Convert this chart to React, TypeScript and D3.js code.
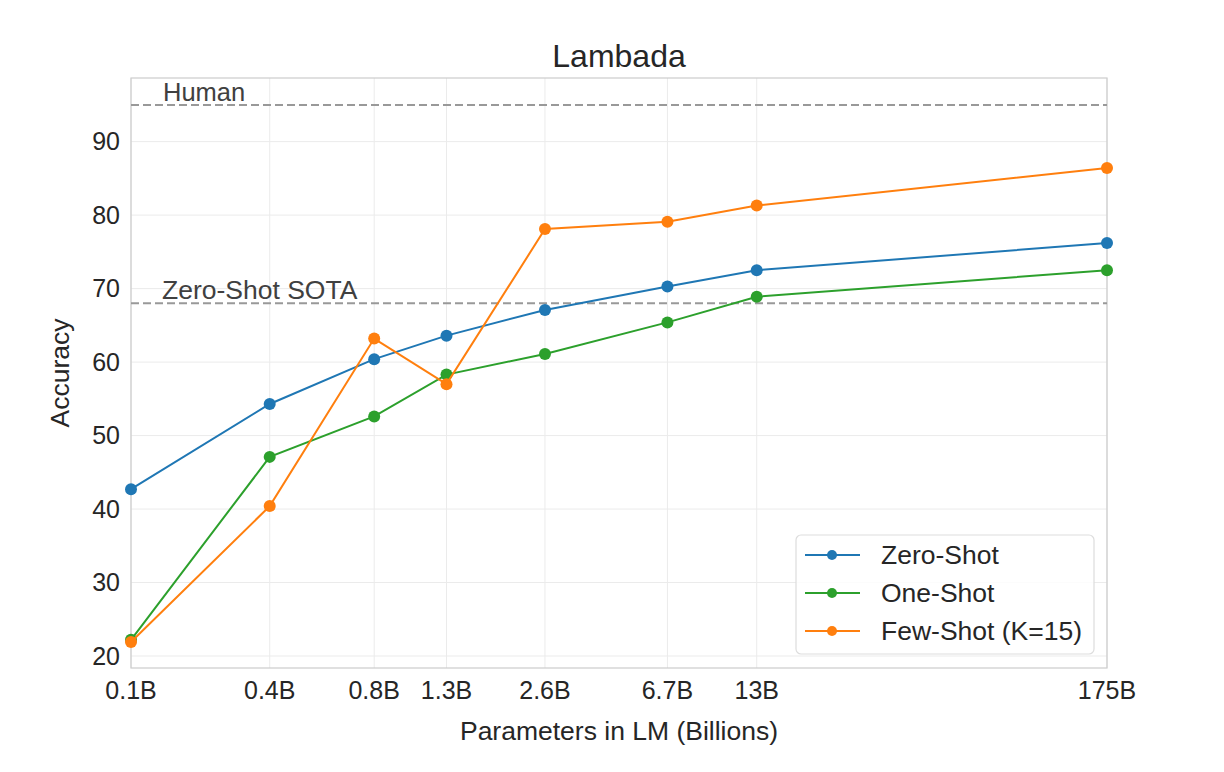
import React from "react";
import * as d3 from "d3";

const paramsB = [0.125, 0.35, 0.76, 1.3, 2.7, 6.7, 13, 175];
const tickLabels = ["0.1B", "0.4B", "0.8B", "1.3B", "2.6B", "6.7B", "13B", "175B"];
const zeroShot = [42.7, 54.3, 60.4, 63.6, 67.1, 70.3, 72.5, 76.2];
const oneShot = [22.2, 47.1, 52.6, 58.3, 61.1, 65.4, 68.9, 72.5];
const fewShot = [21.9, 40.4, 63.2, 57.0, 78.1, 79.1, 81.3, 86.4];
const yTicks = [20, 30, 40, 50, 60, 70, 80, 90];
const humanLevel = 95;
const sotaLevel = 68.0;

const series = [
  { name: "Zero-Shot", values: zeroShot, color: "#1f77b4" },
  { name: "One-Shot", values: oneShot, color: "#2ca02c" },
  { name: "Few-Shot (K=15)", values: fewShot, color: "#ff7f0e" },
];

export default function App() {
  const W = 1224, H = 772;
  const left = 131, right = 1107, top = 78, bottom = 668;
  const font = "'Liberation Sans', Arial, Helvetica, sans-serif";
  const x = d3.scaleLog().domain([paramsB[0], paramsB[paramsB.length - 1]]).range([left, right]);
  const y = d3.scaleLinear().domain([18.37, 98.66]).range([bottom, top]);
  const line = d3.line<number>().x((_, i) => x(paramsB[i])).y((v) => y(v));
  const textColor = "#262626";

  return (
    <svg width={W} height={H} style={{ position: "absolute", left: 0, top: 0, background: "#fff" }} fontFamily={font}>
      <rect x={0} y={0} width={W} height={H} fill="#fff" />
      {paramsB.map((p, i) => (
        <line key={"gx" + i} x1={x(p)} x2={x(p)} y1={top} y2={bottom} stroke="#ebebeb" strokeWidth={1} />
      ))}
      {yTicks.map((t) => (
        <line key={"gy" + t} x1={left} x2={right} y1={y(t)} y2={y(t)} stroke="#ebebeb" strokeWidth={1} />
      ))}
      <rect x={left} y={top} width={right - left} height={bottom - top} fill="none" stroke="#cccccc" strokeWidth={1.2} />
      <line x1={left} x2={right} y1={y(humanLevel)} y2={y(humanLevel)} stroke="#999" strokeWidth={2} strokeDasharray="8,4" />
      <line x1={left} x2={right} y1={y(sotaLevel)} y2={y(sotaLevel)} stroke="#999" strokeWidth={2} strokeDasharray="8,4" />
      <text x={163} y={y(humanLevel) - 4} fontSize={25.5} fill="#404040">Human</text>
      <text x={162} y={y(sotaLevel) - 4} fontSize={26.5} fill="#404040">Zero-Shot SOTA</text>
      {series.map((s) => (
        <g key={s.name}>
          <path d={line(s.values) || ""} fill="none" stroke={s.color} strokeWidth={2} />
          {s.values.map((v, i) => (
            <circle key={i} cx={x(paramsB[i])} cy={y(v)} r={6} fill={s.color} />
          ))}
        </g>
      ))}
      {yTicks.map((t) => (
        <text key={"yt" + t} x={120} y={y(t)} dy="0.35em" textAnchor="end" fontSize={25} fill={textColor}>{t}</text>
      ))}
      {paramsB.map((p, i) => (
        <text key={"xt" + i} x={x(p)} y={699} textAnchor="middle" fontSize={25} fill={textColor}>{tickLabels[i]}</text>
      ))}
      <text x={619} y={740} textAnchor="middle" fontSize={26.5} fill={textColor}>Parameters in LM (Billions)</text>
      <text transform={`translate(69,${(top + bottom) / 2}) rotate(-90)`} textAnchor="middle" fontSize={26.5} fill={textColor}>Accuracy</text>
      <text x={619} y={67} textAnchor="middle" fontSize={32} fill={textColor}>Lambada</text>
      <g>
        <rect x={796} y={535} width={298} height={119} rx={5} fill="#fff" fillOpacity={0.85} stroke="#dddddd" strokeWidth={1.2} />
        {series.map((s, i) => {
          const ly = 555 + i * 38;
          return (
            <g key={"lg" + i}>
              <line x1={805} x2={860} y1={ly} y2={ly} stroke={s.color} strokeWidth={2} />
              <circle cx={832} cy={ly} r={5} fill={s.color} />
              <text x={881} y={ly} dy="0.35em" fontSize={26.5} fill={textColor}>{s.name}</text>
            </g>
          );
        })}
      </g>
    </svg>
  );
}
